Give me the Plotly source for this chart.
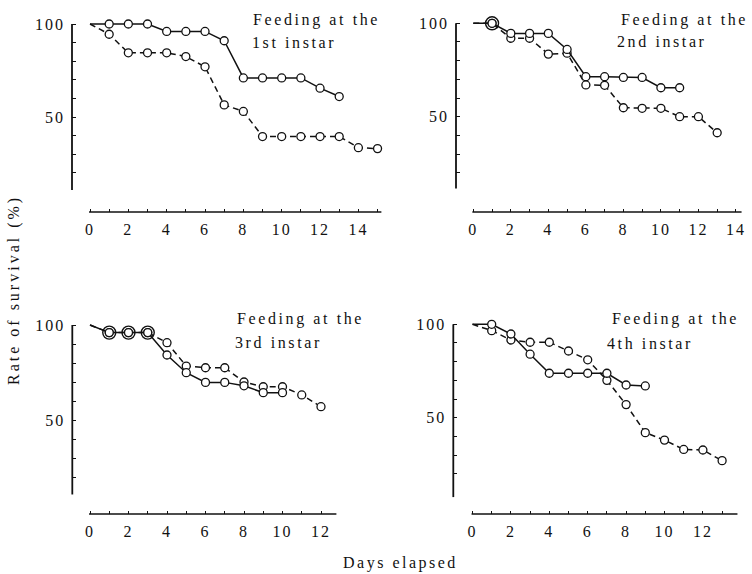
import plotly.graph_objects as go

# ---------------- data ----------------
days_1_solid = list(range(0, 14))
surv_1_solid = [100, 100, 100, 100, 96, 96, 96, 91, 71, 71, 71, 71, 65.5, 61]
days_1_dash = list(range(0, 16))
surv_1_dash = [100, 94.5, 84.5, 84.5, 84.5, 82.5, 77, 56.5, 53, 39.5, 39.5, 39.5, 39.5, 39.5, 33.5, 33]

days_2_solid = list(range(0, 12))
surv_2_solid = [100, 100, 94.6, 94.6, 94.6, 86, 71.4, 71.4, 71, 71, 65.5, 65.5]
days_2_dash = list(range(0, 14))
surv_2_dash = [100, 100, 92, 92, 83.5, 84, 67, 66.8, 54.8, 54.5, 54.5, 50, 50, 41.4]

days_3_solid = list(range(0, 11))
surv_3_solid = [100, 96, 96, 96, 84.2, 74.9, 69.8, 69.8, 68, 64.4, 64.4]
days_3_dash = list(range(0, 13))
surv_3_dash = [100, 96, 96, 96, 90.7, 78.4, 77.5, 77.5, 70, 67.5, 67.5, 63.2, 57]

days_4_solid = list(range(0, 10))
surv_4_solid = [100, 100, 94.8, 84, 73.8, 73.8, 73.8, 73.8, 67.5, 67]
days_4_dash = list(range(0, 14))
surv_4_dash = [100, 96.6, 91.6, 90.4, 90.4, 85.7, 81, 70, 57, 42, 38, 33, 32.7, 27]

x_ticks_1 = list(range(0, 16))
x_ticks_2 = list(range(0, 15))
x_ticks_3 = list(range(0, 13))
x_ticks_4 = list(range(0, 14))
y_ticks = [20, 30, 40, 50, 60, 70, 80, 90, 100]
y_tick_labels = ["", "", "", "50", "", "", "", "", "100"]

panel_titles = [
    ("Feeding at the", "1st instar"),
    ("Feeding at the", "2nd instar"),
    ("Feeding at the", "3rd instar"),
    ("Feeding at the", "4th instar"),
]
y_title = "Rate of survival (%)"
x_title = "Days elapsed"

# ---------------- layout config ----------------
W, H = 752, 574
FONT = "Liberation Serif, DejaVu Serif, serif"
INK = "#111111"


def spaced(s, ls=2.5):
    if s == "":
        return s
    return "<span style='letter-spacing:%spx'>%s</span>" % (ls, s)


def px_x(p):
    return p / W


def px_y(p):
    return 1 - p / H


# per panel: y-axis pixel x, pixel of day 0, px per day, right pixel,
# x-axis pixel y, pixel of 100%, px per %, top pixel
geo = [
    dict(ax=72, x0=90, ppx=19.17, right=397, bx=212, y100=24, ppy=1.86, top=14, ybot=10.8, xend=0.2),
    dict(ax=456, x0=473.3, ppx=18.76, right=752, bx=212, y100=23.3, ppy=1.868, top=14, ybot=11.5, xend=0.3),
    dict(ax=72.3, x0=90, ppx=19.25, right=397, bx=514, y100=325, ppy=1.9, top=315, ybot=10.8, xend=0.8),
    dict(ax=453.3, x0=472.5, ppx=19.2, right=752, bx=514, y100=324.3, ppy=1.868, top=315, ybot=7.5, xend=0.8),
]

title_pos = [
    ((251, 20), (250, 43)),
    ((619, 20), (615, 42)),
    ((235, 319), (233, 342)),
    ((610, 319), (605, 343)),
]

series = [
    (days_1_solid, surv_1_solid, days_1_dash, surv_1_dash, x_ticks_1),
    (days_2_solid, surv_2_solid, days_2_dash, surv_2_dash, x_ticks_2),
    (days_3_solid, surv_3_solid, days_3_dash, surv_3_dash, x_ticks_3),
    (days_4_solid, surv_4_solid, days_4_dash, surv_4_dash, x_ticks_4),
]

fig = go.Figure()
shapes = []
annotations = []

for i, ((ds, ss, dd, sd, xt), g) in enumerate(zip(series, geo), start=1):
    suf = "" if i == 1 else str(i)
    xa, ya = "x" + suf, "y" + suf

    for xs, ys, dash in ((dd, sd, "6px,4px"), (ds, ss, "solid")):
        fig.add_trace(go.Scatter(
            x=xs, y=ys, mode="lines+markers", xaxis=xa, yaxis=ya,
            line=dict(color=INK, width=1.5, dash=dash),
            marker=dict(symbol="circle", size=8, color="white",
                        line=dict(color=INK, width=1.3),
                        opacity=[0 if d == 0 else 1 for d in xs]),
            cliponaxis=False, hoverinfo="skip", showlegend=False))

    # double rings where both series coincide
    common = [(d, v) for d, v in zip(ds, ss) if d > 0 and d in dd and sd[dd.index(d)] == v]
    if common:
        fig.add_trace(go.Scatter(
            x=[c[0] for c in common], y=[c[1] for c in common], mode="markers",
            xaxis=xa, yaxis=ya,
            marker=dict(symbol="circle-open", size=13, color=INK, line=dict(color=INK, width=1.4)),
            cliponaxis=False, hoverinfo="skip", showlegend=False))

    xr = [(g["ax"] - g["x0"]) / g["ppx"], (g["right"] - g["x0"]) / g["ppx"]]
    yr = [100 - (g["bx"] - g["y100"]) / g["ppy"], 100 + (g["y100"] - g["top"]) / g["ppy"]]

    fig.layout["xaxis" + suf] = dict(
        domain=[px_x(g["ax"]), min(1, px_x(g["right"]))], range=xr, anchor=ya,
        tickmode="array", tickvals=xt,
        ticktext=[spaced(str(v), 2) if v % 2 == 0 else "" for v in xt],
        ticks="inside", ticklen=3, tickwidth=1.3, tickcolor=INK,
        showline=False, showgrid=False, zeroline=False,
        tickfont=dict(family=FONT, size=16, color=INK), ticklabelstandoff=6)
    fig.layout["yaxis" + suf] = dict(
        domain=[px_y(g["bx"]), px_y(g["top"])], range=yr, anchor=xa,
        tickmode="array", tickvals=y_ticks, ticktext=[spaced(t, 2) for t in y_tick_labels],
        ticks="inside", ticklen=4, tickwidth=1.3, tickcolor=INK,
        showline=False, showgrid=False, zeroline=False,
        tickfont=dict(family=FONT, size=16, color=INK), ticklabelstandoff=6)

    # y-axis line (from ybot to 100)
    shapes.append(dict(type="line", xref=xa + " domain", yref=ya, x0=0, x1=0,
                       y0=g["ybot"], y1=max(y_ticks), line=dict(color=INK, width=1.8)))
    # x-axis line
    shapes.append(dict(type="line", xref=xa, yref=ya + " domain", x0=min(xt) - 0.05,
                       x1=max(xt) + g["xend"], y0=0, y1=0, line=dict(color=INK, width=1.6)))

    (l1, l2) = panel_titles[i - 1]
    (p1, p2) = title_pos[i - 1]
    for txt, (px, py) in ((l1, p1), (l2, p2)):
        annotations.append(dict(text=spaced(txt, 2.6), xref="paper", yref="paper", x=px_x(px), y=px_y(py),
                                xanchor="left", yanchor="middle", showarrow=False,
                                font=dict(family=FONT, size=16, color=INK)))

annotations.append(dict(text=spaced(y_title, 3), xref="paper", yref="paper", x=px_x(14), y=px_y(290),
                        xanchor="center", yanchor="middle", textangle=-90, showarrow=False,
                        font=dict(family=FONT, size=16, color=INK)))
annotations.append(dict(text=spaced(x_title, 2.5), xref="paper", yref="paper", x=px_x(400), y=px_y(563),
                        xanchor="center", yanchor="middle", showarrow=False,
                        font=dict(family=FONT, size=16, color=INK)))

fig.update_layout(width=W, height=H, margin=dict(l=0, r=0, t=0, b=0),
                  paper_bgcolor="white", plot_bgcolor="white",
                  shapes=shapes, annotations=annotations, showlegend=False)

fig.write_html("out.html")
